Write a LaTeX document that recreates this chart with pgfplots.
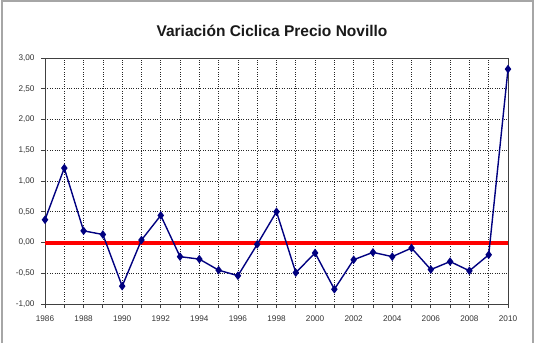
\documentclass[border=0pt]{standalone}
\usepackage{fontspec}
\setmainfont{Liberation Sans}
\usepackage{pgfplots}
\pgfplotsset{compat=1.18}
\begin{document}
\begin{tikzpicture}[x=1bp,y=1bp]
\path[use as bounding box] (0,0) rectangle (536,343);
\draw[gray!70, line width=1.5bp] (2,0) -- (2,342) -- (533,342) -- (533,0);
\node[font=\fontsize{15.5bp}{17bp}\selectfont\bfseries, text=black!90] at (272,312) {Variación Ciclica Precio Novillo};
\begin{axis}[
  at={(45bp,39bp)}, anchor=south west,
  width=463bp, height=246bp, scale only axis,
  xmin=1986, xmax=2010, ymin=-1, ymax=3,
  xtick={1986,1988,...,2010},
  minor xtick={1987,1989,...,2009},
  ytick={-1,-0.5,...,3},
  grid=both,
  major grid style={black!85, dotted, line width=0.7bp},
  minor grid style={black!85, dotted, line width=0.7bp},
  axis line style={black!75, line width=0.8bp},
  tick style={black!75, line width=0.8bp},
  tick align=outside,
  major tick length=4bp, minor tick length=4bp,
  xtick pos=left, ytick pos=left,
  ticklabel style={font=\fontsize{8.2bp}{9bp}\selectfont, text=black!80},
  /pgf/number format/assume math mode=true,
  xticklabel={\pgfmathprintnumber[1000 sep={}]{\tick}},
  yticklabel style={/pgf/number format/.cd, fixed, fixed zerofill, precision=2, use comma},
  yticklabel shift=3bp, xticklabel shift=4bp,
  clip=false,
]
\addplot[red, line width=4bp, forget plot] coordinates {(1986,0) (2010,0)};
\addplot[color={rgb,255:red,0;green,0;blue,128}, line width=1.4bp, mark=diamond*, mark size=3.2bp] coordinates {
(1986,0.37) (1987,1.21) (1988,0.19) (1989,0.13) (1990,-0.71) (1991,0.04)
(1992,0.44) (1993,-0.23) (1994,-0.27) (1995,-0.45) (1996,-0.54) (1997,-0.03)
(1998,0.50) (1999,-0.49) (2000,-0.17) (2001,-0.76) (2002,-0.28) (2003,-0.16)
(2004,-0.23) (2005,-0.09) (2006,-0.44) (2007,-0.31) (2008,-0.46) (2009,-0.20)
(2010,2.82)};
\end{axis}
\end{tikzpicture}
\end{document}
